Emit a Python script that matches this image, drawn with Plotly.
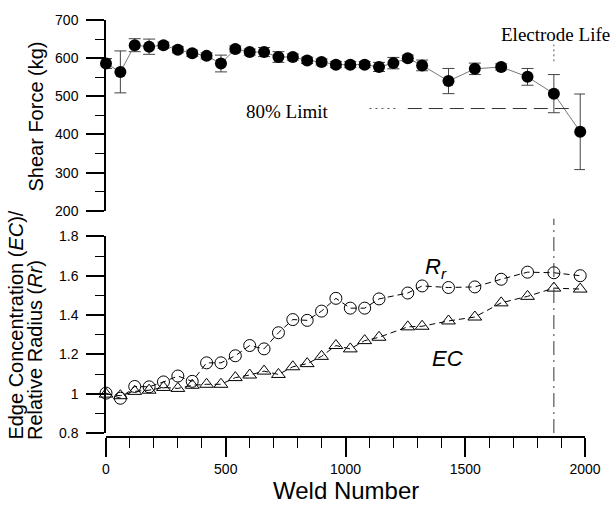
import plotly.graph_objects as go

# ---- data ----
weld_top = [0, 60, 120, 180, 240, 300, 360, 420, 480, 540, 600, 660, 720, 780, 840,
            900, 960, 1020, 1080, 1140, 1200, 1260, 1320, 1430, 1540, 1650, 1760, 1870, 1980]
shear_force = [586, 564, 634, 630, 634, 622, 613, 606, 586, 624, 616, 616, 603, 603, 594,
               590, 583, 583, 583, 577, 587, 600, 581, 540, 572, 577, 551, 507, 407]
shear_err = [13, 55, 17, 20, 8, 8, 8, 8, 22, 8, 8, 12, 14, 8, 8,
             8, 8, 8, 8, 12, 15, 8, 14, 33, 15, 8, 22, 50, 99]

weld_bottom = [0, 60, 120, 180, 240, 300, 360, 420, 480, 540, 600, 660, 720, 780, 840,
               900, 960, 1020, 1080, 1140, 1260, 1320, 1430, 1540, 1650, 1760, 1870, 1980]
relative_radius = [1.003, 0.977, 1.037, 1.035, 1.06, 1.09, 1.063, 1.157, 1.157, 1.193, 1.245,
                   1.228, 1.31, 1.377, 1.373, 1.42, 1.485, 1.435, 1.435, 1.482, 1.512, 1.548,
                   1.54, 1.543, 1.582, 1.618, 1.615, 1.60]
edge_conc = [0.998, 0.99, 1.012, 1.018, 1.032, 1.027, 1.043, 1.048, 1.048, 1.082, 1.095,
             1.115, 1.098, 1.137, 1.153, 1.19, 1.245, 1.228, 1.27, 1.287, 1.34, 1.343,
             1.37, 1.39, 1.462, 1.495, 1.537, 1.532]

electrode_life = 1870
limit_80 = 468
limit_span = [1100, 1220, 1260, 1960]

SANS = "Liberation Sans, Arial, sans-serif"
SERIF = "Liberation Serif, Times New Roman, serif"

fig = go.Figure()

fig.add_trace(go.Scatter(
    x=weld_top, y=shear_force, xaxis="x", yaxis="y",
    mode="lines+markers",
    line=dict(color="#777777", width=1),
    marker=dict(symbol="circle", size=12, color="black"),
    error_y=dict(type="data", array=shear_err, visible=True,
                 color="#444444", thickness=1, width=6),
    cliponaxis=False, showlegend=False,
))

fig.add_trace(go.Scatter(
    x=weld_bottom, y=relative_radius, xaxis="x", yaxis="y2",
    mode="lines+markers",
    line=dict(color="black", width=1, dash="6px,4px"),
    marker=dict(symbol="circle-open", size=12, color="black", line=dict(width=1)),
    cliponaxis=False, showlegend=False,
))

fig.add_trace(go.Scatter(
    x=weld_bottom, y=edge_conc, xaxis="x", yaxis="y2",
    mode="lines+markers",
    line=dict(color="black", width=1, dash="6px,4px"),
    marker=dict(symbol="triangle-up-open", size=12, color="black", line=dict(width=1)),
    cliponaxis=False, showlegend=False,
))

H0 = 437.0  # pixel y of paper 0
PH = 424.0  # plot area height


def py(p):
    return (H0 - p) / PH


def px(p):
    return (p - 106.0) / 480.0


shapes = [
    # 80% limit line: dotted start, then dashed
    dict(type="line", xref="x", yref="y", x0=limit_span[0], x1=limit_span[1],
         y0=limit_80, y1=limit_80, line=dict(color="#555555", width=1, dash="2px,4px")),
    dict(type="line", xref="x", yref="y", x0=limit_span[2], x1=limit_span[3],
         y0=limit_80, y1=limit_80, line=dict(color="#333333", width=1, dash="14px,7px")),
    # electrode life vertical line
    dict(type="line", xref="x", yref="paper", x0=electrode_life, x1=electrode_life,
         y0=py(55), y1=py(38), line=dict(color="#555555", width=1, dash="2px,3px")),
    dict(type="line", xref="x", yref="paper", x0=electrode_life, x1=electrode_life,
         y0=py(433), y1=py(215), line=dict(color="#333333", width=1, dash="14px,5px,2px,5px")),
]

annotations = [
    dict(text="Electrode Life", xref="paper", yref="paper", x=px(500), y=py(28),
         xanchor="left", yanchor="middle", showarrow=False,
         font=dict(family=SERIF, size=19, color="black")),
    dict(text="80% Limit", xref="paper", yref="paper", x=px(288), y=py(106),
         xanchor="center", yanchor="middle", showarrow=False,
         font=dict(family=SERIF, size=19, color="black")),
    dict(text="<i>R<sub>r</sub></i>", xref="paper", yref="paper", x=px(437), y=py(265),
         xanchor="center", yanchor="middle", showarrow=False,
         font=dict(family=SANS, size=22, color="black")),
    dict(text="<i>EC</i>", xref="paper", yref="paper", x=px(448), y=py(357),
         xanchor="center", yanchor="middle", showarrow=False,
         font=dict(family=SANS, size=22, color="black")),
    dict(text="Shear Force (kg)", xref="paper", yref="paper", x=px(36), y=py(111),
         xanchor="center", yanchor="middle", textangle=-90, showarrow=False,
         font=dict(family=SANS, size=20, color="black")),
    dict(text="Edge Concentration (<i>EC</i>)/", xref="paper", yref="paper", x=px(16), y=py(442),
         xanchor="center", yanchor="bottom", textangle=-90, showarrow=False,
         font=dict(family=SANS, size=20, color="black")),
    dict(text="Relative Radius (<i>Rr</i>)", xref="paper", yref="paper", x=px(35), y=py(442),
         xanchor="center", yanchor="bottom", textangle=-90, showarrow=False,
         font=dict(family=SANS, size=20, color="black")),
    dict(text="Weld Number", xref="paper", yref="paper", x=px(346), y=py(491),
         xanchor="center", yanchor="middle", showarrow=False,
         font=dict(family=SANS, size=24, color="black")),
]

axis_common = dict(showgrid=False, zeroline=False, showline=True, linecolor="black",
                   linewidth=1.5, ticks="outside", tickcolor="black", tickwidth=1.5,
                   tickfont=dict(family=SANS, size=14, color="black"))

fig.update_layout(
    width=613, height=507,
    margin=dict(l=106, r=27, t=13, b=70),
    paper_bgcolor="white", plot_bgcolor="white",
    font=dict(family=SANS, color="black"),
    xaxis=dict(domain=[0, 1], range=[0, 2000], anchor="free", position=0,
               dtick=500, tick0=0, ticklen=19,
               minor=dict(dtick=100, ticklen=10, tickwidth=1.2, ticks="outside", tickcolor="black"),
               **axis_common),
    yaxis=dict(domain=[py(207), 1], range=[200, 700], anchor="x",
               dtick=100, tick0=0, ticklen=18, ticklabelstandoff=5,
               minor=dict(dtick=50, ticklen=9, tickwidth=1.2, ticks="outside", tickcolor="black"),
               **axis_common),
    yaxis2=dict(domain=[py(433), py(233)], range=[0.8, 1.8], anchor="x",
                dtick=0.2, tick0=0, ticklen=18, ticklabelstandoff=5,
                minor=dict(dtick=0.1, ticklen=9, tickwidth=1.2, ticks="outside", tickcolor="black"),
                **axis_common),
    shapes=shapes,
    annotations=annotations,
)

fig.write_html("out.html",
               config={"displayModeBar": False},
               post_script="document.body.style.margin='0';document.body.style.overflow='hidden';")
